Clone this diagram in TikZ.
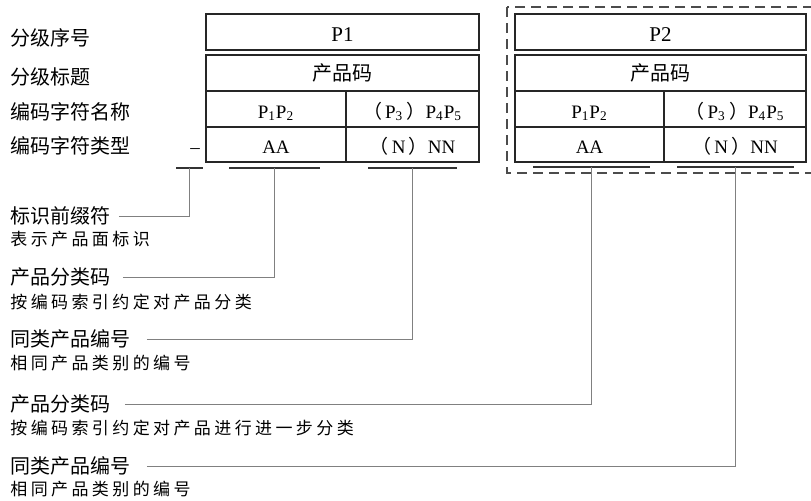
\documentclass[tikz,border=0pt]{standalone}
\usepackage{fontspec}
\setmainfont{Liberation Serif}
\newfontfamily\cjk{Noto Sans CJK SC}
\newfontfamily\cjknote{Noto Sans CJK SC}[LetterSpace=20]
\usetikzlibrary{calc}
\usetikzlibrary{positioning}

\tikzset{
	tab/.style={draw=black!85, line width=0.9pt},
	txt/.style={anchor=base, inner sep=0pt, font=\fontsize{9.5}{11}\selectfont},
	head/.style={anchor=west, inner sep=0pt, font=\cjk\fontsize{10}{12}\selectfont},
	note/.style={anchor=west, inner sep=0pt, font=\cjknote\fontsize{8.5}{10}\selectfont},
	bar/.style={draw=black!80, line width=0.9pt},
	lead/.style={draw=black!50, line width=0.45pt},
}

\begin{document}
\begin{tikzpicture}[x=0.5pt, y=-0.5pt]
		\useasboundingbox (0,0) rectangle (811,500);
		\node[head] (r1) at (10,38) {分级序号};
		\node[head] (r2) at (10,77) {分级标题};
		\node[head] (r3) at (10,112) {编码字符名称};
		\node[head] (r4) at (10,146) {编码字符类型};
		\node[txt] (pre) at (195,153) {–};
		\foreach \l/\m/\r/\n in {206/346/479/1, 515/664/806/2} {
			\draw[tab] (\l,14) rectangle (\r,50);
			\draw[tab] (\l,55) rectangle (\r,162) (\l,91) -- (\r,91) (\l,127) -- (\r,127) (\m,91) -- (\m,162);
			\node[txt, font=\fontsize{10.5}{12}\selectfont] (p\n-id) at ({(\l+\r)/2},41) {P\n};
			\node[txt, font=\cjk\fontsize{10}{12}\selectfont] (p\n-name) at ({(\l+\r)/2},80) {产品码};
			\node[txt] (p\n-a) at ({(\l+\m)/2},118) {P\textsubscript{1}P\textsubscript{2}};
			\node[txt] (p\n-b) at ({(\m+\r)/2},118) {{\cjk（}\,P\textsubscript{3}\,{\cjk）}P\textsubscript{4}P\textsubscript{5}};
			\node[txt] (p\n-c) at ({(\l+\m)/2},153) {AA};
			\node[txt] (p\n-d) at ({(\m+\r)/2},153) {{\cjk（}\,N\,{\cjk）}NN};
		}
		\draw[black!70, line width=0.7pt, dash pattern=on 5pt off 3pt] (507,7) rectangle (830,173);
		\draw[bar] (176,168) -- coordinate (u0) (203,168);
		\draw[bar] (229,168) -- coordinate (u1) (320,168);
		\draw[bar] (368,168) -- coordinate (u2) (457,168);
		\draw[bar] (533,167) -- coordinate (u3) (650,167);
		\draw[bar] (677,167) -- coordinate (u4) (794,167);
		\node[head] (k1) at (10,216) {标识前缀符};
		\node[note] (d1) at (10,239) {表示产品面标识};
		\node[head] (k2) at (10,277) {产品分类码};
		\node[note] (d2) at (10,302) {按编码索引约定对产品分类};
		\node[head] (k3) at (10,339) {同类产品编号};
		\node[note] (d3) at (10,363) {相同产品类别的编号};
		\node[head] (k4) at (10,404) {产品分类码};
		\node[note] (d4) at (10,428) {按编码索引约定对产品进行进一步分类};
		\node[head] (k5) at (10,466) {同类产品编号};
		\node[note] (d5) at (10,489) {相同产品类别的编号};
		\draw[lead] ([xshift=4pt]k1.east) -| (u0);
		\draw[lead] ([xshift=6pt]k2.east) -| (u1);
		\draw[lead] ([xshift=8pt]k3.east) -| (u2);
		\draw[lead] ([xshift=7pt]k4.east) -| (u3);
		\draw[lead] ([xshift=8pt]k5.east) -| (u4);
	\end{tikzpicture}
\end{document}
